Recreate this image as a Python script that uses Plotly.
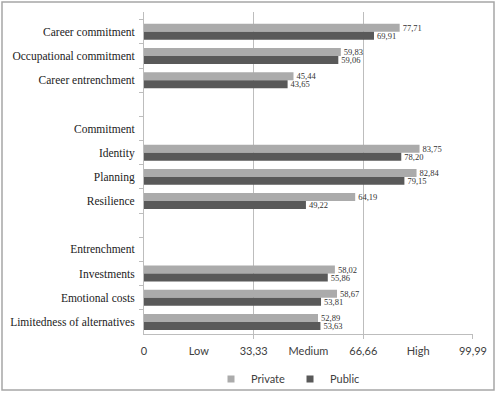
import plotly.graph_objects as go

categories = ["Career commitment", "Occupational commitment", "Career entrenchment", " ",
              "Commitment", "Identity", "Planning", "Resilience", "  ",
              "Entrenchment", "Investments", "Emotional costs", "Limitedness of alternatives"]
private = [77.71, 59.83, 45.44, None, None, 83.75, 82.84, 64.19, None, None, 58.02, 58.67, 52.89]
public = [69.91, 59.06, 43.65, None, None, 78.20, 79.15, 49.22, None, None, 55.86, 53.81, 53.63]
tick_vals = [0, 16.665, 33.33, 49.995, 66.66, 83.325, 99.99]
tick_text = ["0", "Low", "33,33", "Medium", "66,66", "High", "99,99"]
grid_vals = [33.33, 66.66, 99.99]
series_names = ["Private", "Public"]
series_colors = ["#ababab", "#595959"]

W, H = 497, 393
ML, MR, MT, MB = 144, 24, 12, 59

label_font = dict(family="Liberation Serif", size=8.5, color="#333333")

fig = go.Figure()
for name, vals, col in zip(series_names, [private, public], series_colors):
    fig.add_trace(go.Bar(y=categories, x=vals, orientation="h", name=name,
                         marker=dict(color=col, line=dict(width=0)),
                         texttemplate="%{x:.2f}", textposition="outside",
                         textfont=label_font, constraintext="none", cliponaxis=False,
                         showlegend=False))
# legend entries with small square markers
for name, col in zip(series_names, series_colors):
    fig.add_trace(go.Scatter(x=[None], y=[None], mode="markers", name=name,
                             marker=dict(symbol="square", size=7, color=col)))
# invisible trace on overlay axis to draw selected gridlines
fig.add_trace(go.Scatter(x=[0], y=[categories[0]], xaxis="x2", mode="markers",
                         marker=dict(opacity=0), showlegend=False, hoverinfo="skip"))

fig.update_layout(
    width=W, height=H,
    margin=dict(l=ML, r=MR, t=MT, b=MB, autoexpand=False),
    paper_bgcolor="white", plot_bgcolor="white",
    barmode="group", bargap=0.34, bargroupgap=0,
    separators=",.",
    font=dict(family="Liberation Serif", color="#222222"),
    xaxis=dict(range=[0, 100], tickvals=tick_vals, ticktext=tick_text, showgrid=False,
               zeroline=False, showline=True, linecolor="#bdbdbd", linewidth=1,
               ticks="", tickfont=dict(family="Lato", size=11, color="#404040"),
               ticklabelstandoff=7, automargin=False, fixedrange=True),
    xaxis2=dict(range=[0, 100], overlaying="x", tickvals=grid_vals, showgrid=True,
                gridcolor="#bdbdbd", gridwidth=1, showticklabels=False, zeroline=False,
                ticks="outside", ticklen=4, tickcolor="#bdbdbd", side="bottom",
                showline=False, automargin=False),
    yaxis=dict(autorange="reversed", type="category", tickson="boundaries",
               ticks="outside", ticklen=4, tickcolor="#bdbdbd", showline=True,
               linecolor="#bdbdbd", linewidth=1, showgrid=False, automargin=False,
               tickfont=dict(family="Liberation Serif", size=11.5, color="#222222"),
               ticklabelstandoff=6),
    legend=dict(orientation="h", xref="container", x=211 / W, xanchor="left",
                yref="container", y=14 / H, yanchor="middle",
                font=dict(family="Lato", size=11, color="#404040"),
                itemwidth=30, traceorder="normal", entrywidth=0,
                bgcolor="rgba(0,0,0,0)"),
    showlegend=True,
)

pw = W - ML - MR
ph = H - MT - MB
fig.add_shape(type="rect", xref="paper", yref="paper",
              x0=(2 - ML) / pw, x1=(W - 3 - ML) / pw,
              y0=-(H - 3 - MT - ph) / ph, y1=1 + (MT - 2) / ph,
              line=dict(color="#a6a6a6", width=1.5), fillcolor="rgba(0,0,0,0)", layer="below")

fig.write_html("out.html")
